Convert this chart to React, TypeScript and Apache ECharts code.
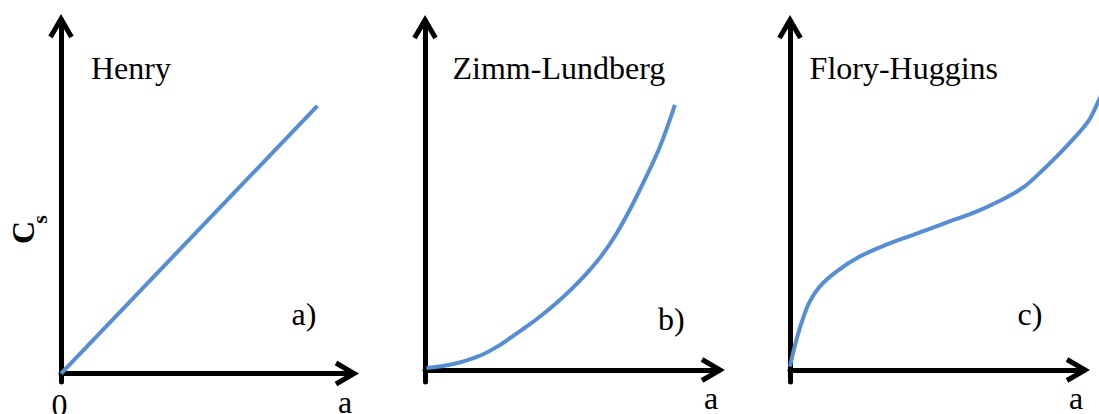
import React, { useEffect, useRef } from 'react';
import * as echarts from 'echarts';

// ---- data ----
const PANEL_TITLES = ['Henry', 'Zimm-Lundberg', 'Flory-Huggins'];
const PANEL_TAGS = ['a)', 'b)', 'c)'];
const X_AXIS_NAME = 'a';
const Y_AXIS_MAIN = 'C';
const Y_AXIS_SUB = 's';
const ORIGIN_LABEL_VALUES = [0];

const henryX = [0, 8.78];
const henryY = [0, 7.57];

const zimmX = [0.05, 0.5, 1.0, 1.5, 2.0, 2.5, 3.0, 3.5, 4.0, 4.5, 5.0, 5.5, 6.0, 6.5, 7.0, 7.5, 8.0, 8.5];
const zimmY = [0.06, 0.1, 0.18, 0.3, 0.46, 0.69, 0.98, 1.27, 1.59, 1.94, 2.33, 2.77, 3.27, 3.89, 4.65, 5.5, 6.42, 7.6];

const floryX = [0.0, 0.16, 0.39, 0.67, 1.01, 1.58, 2.37, 3.28, 4.19, 5.21, 6.34, 7.14, 7.93, 8.61, 9.29, 9.86, 10.2, 10.51, 10.82];
const floryY = [0.1, 0.68, 1.35, 1.96, 2.39, 2.82, 3.25, 3.59, 3.87, 4.19, 4.54, 4.85, 5.23, 5.74, 6.31, 6.83, 7.2, 7.74, 8.31];

// ---- layout / style ----
const FONT = 'Liberation Serif, serif';
const BLUE = '#558ED5';
const GRIDS = [
  { left: 61, top: 20, width: 292, height: 362 },
  { left: 425, top: 21, width: 294, height: 361 },
  { left: 790, top: 21, width: 294, height: 361 },
];
// hidden plotting area for panel c, same scale as its axes but wider so the curve runs off the page edge
const OVERFLOW_GRID = { left: 790, top: 21, width: 352.8, height: 361 };
const X_MAX = 10;
const OVERFLOW_X_MAX = 12;
const Y_MAX = 10;
const Y_MIN = [-0.24, -0.344, -0.344];
const TITLE_POS = [
  [91, 67.5],
  [452.5, 67.5],
  [809.6, 67.5],
];
const TAG_POS = [
  [291.5, 314.2],
  [658, 319.2],
  [1017.5, 314.2],
];

const CHEVRON = 'path://M13,0 L25.66,21.74 L21.34,24.26 L13,9.96 L4.66,24.26 L0.34,21.74 Z';

const zip = (xs: number[], ys: number[]) => xs.map((x, i) => [x, ys[i]]);

function axisLine() {
  return {
    show: true,
    onZero: true,
    symbol: ['none', CHEVRON],
    symbolSize: [25.3, 24.3],
    symbolOffset: [0, -6.15],
    lineStyle: { color: '#000', width: 5 },
  };
}

export default function App() {
  const ref = useRef<HTMLDivElement>(null);
  useEffect(() => {
    if (!ref.current) return;
    const chart = echarts.init(ref.current, null, { renderer: 'svg' });
    const xAxis: any[] = GRIDS.map((_, i) => ({
      type: 'value',
      gridIndex: i,
      min: 0,
      max: X_MAX,
      axisLine: axisLine(),
      axisTick: { show: false },
      splitLine: { show: false },
      axisLabel:
        i === 0
          ? {
              show: true,
              customValues: ORIGIN_LABEL_VALUES,
              margin: 7,
              fontSize: 32,
              fontFamily: FONT,
              color: '#000',
              padding: [0, 3, 0, 0],
              formatter: (v: number) => String(v),
            }
          : { show: false },
      name: X_AXIS_NAME,
      nameLocation: 'end',
      nameGap: -8,
      nameTextStyle: {
        fontSize: 32,
        fontFamily: FONT,
        color: '#000',
        align: 'center',
        verticalAlign: 'top',
        padding: [12, 0, 0, 0],
      },
    }));
    xAxis.push({ type: 'value', gridIndex: 3, min: 0, max: OVERFLOW_X_MAX, show: false });
    const yAxis: any[] = GRIDS.map((_, i) => ({
      type: 'value',
      gridIndex: i,
      min: Y_MIN[i],
      max: Y_MAX,
      axisLine: axisLine(),
      axisTick: { show: false },
      splitLine: { show: false },
      axisLabel: { show: false },
    }));
    yAxis.push({ type: 'value', gridIndex: 3, min: Y_MIN[2], max: Y_MAX, show: false });
    const lineStyle = { color: BLUE, width: 4 };
    const series = [
      { data: zip(henryX, henryY), smooth: false, axis: 0 },
      { data: zip(zimmX, zimmY), smooth: 0.35, axis: 1 },
      { data: zip(floryX, floryY), smooth: 0.35, axis: 3 },
    ].map((s) => ({
      type: 'line',
      xAxisIndex: s.axis,
      yAxisIndex: s.axis,
      data: s.data,
      smooth: s.smooth,
      showSymbol: false,
      symbol: 'none',
      lineStyle,
      z: 5,
    }));
    const textStyle = { fontSize: 32, fontFamily: FONT, fill: '#000', align: 'left', verticalAlign: 'middle' };
    const graphic: any[] = [];
    PANEL_TITLES.forEach((t, i) => {
      graphic.push({ type: 'text', x: TITLE_POS[i][0], y: TITLE_POS[i][1], style: { ...textStyle, text: t } });
    });
    PANEL_TAGS.forEach((t, i) => {
      graphic.push({ type: 'text', x: TAG_POS[i][0], y: TAG_POS[i][1], style: { ...textStyle, text: t } });
    });
    graphic.push({
      type: 'text',
      x: 22.5,
      y: 232.5,
      rotation: Math.PI / 2,
      style: { text: Y_AXIS_MAIN, fontSize: 32, fontWeight: 'bold', fontFamily: FONT, fill: '#000', align: 'center', verticalAlign: 'middle' },
    });
    graphic.push({
      type: 'text',
      x: 39.6,
      y: 219.5,
      rotation: Math.PI / 2,
      style: { text: Y_AXIS_SUB, fontSize: 22, fontWeight: 'bold', fontFamily: FONT, fill: '#000', align: 'center', verticalAlign: 'middle' },
    });
    chart.setOption({
      animation: false,
      backgroundColor: '#fff',
      grid: [...GRIDS, OVERFLOW_GRID].map((g) => ({ ...g, containLabel: false, outerBoundsMode: 'none' })),
      xAxis,
      yAxis,
      series,
      graphic,
    });
    return () => chart.dispose();
  }, []);
  return (
    <div
      ref={ref}
      style={{ position: 'absolute', left: 0, top: 0, width: 1099, height: 414, overflow: 'hidden', background: '#fff' }}
    />
  );
}
